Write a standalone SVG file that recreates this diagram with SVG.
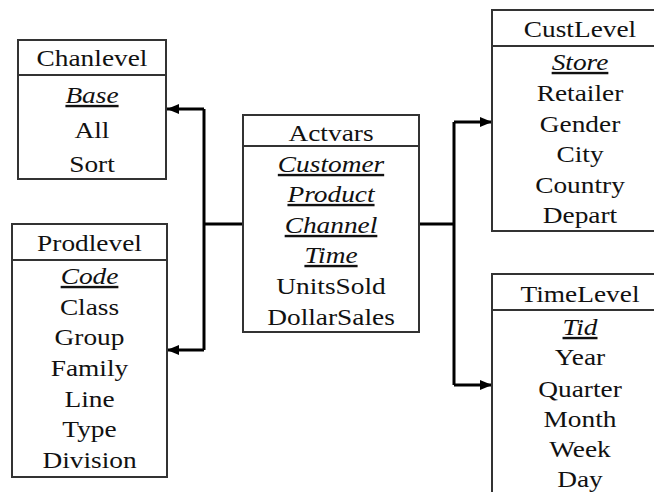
<svg xmlns="http://www.w3.org/2000/svg" width="654" height="492" viewBox="0 0 654 492">
<style>
  .box { fill: #ffffff; stroke: #333333; stroke-width: 2; }
  .sep { stroke: #333333; stroke-width: 2; }
  text { font-size: 24px; fill: #111111; text-anchor: middle; }
  .key { font-style: italic; text-decoration: underline; }
  .conn { fill: none; stroke: #000000; stroke-width: 3; }
</style>
<defs>
  <marker id="arr" markerUnits="userSpaceOnUse" markerWidth="14" markerHeight="12" refX="12" refY="6" orient="auto">
    <path d="M0,1 L12,6 L0,11 Z" fill="#000000"/>
  </marker>
</defs>
<rect width="654" height="492" fill="#ffffff"/>

<g id="connectors">
  <path class="conn" d="M243,224 H204"/>
  <path class="conn" d="M204,109 V350"/>
  <path class="conn" d="M204,109 H167" marker-end="url(#arr)"/>
  <path class="conn" d="M204,350 H167" marker-end="url(#arr)"/>
  <path class="conn" d="M419,224 H454"/>
  <path class="conn" d="M454,122 V385"/>
  <path class="conn" d="M454,122 H492" marker-end="url(#arr)"/>
  <path class="conn" d="M454,385 H492" marker-end="url(#arr)"/>
</g>

<g id="chanlevel">
  <rect class="box" x="18" y="40" width="148" height="139"/>
  <line class="sep" x1="18" y1="75" x2="166" y2="75"/>
  <g transform="translate(92 0) scale(1.14 1)">
    <text font-family="Liberation Serif" x="0" y="66">Chanlevel</text>
    <text font-family="Liberation Serif" class="key" x="0" y="103">Base</text>
    <text font-family="Liberation Serif" x="0" y="138">All</text>
    <text font-family="Liberation Serif" x="0" y="172">Sort</text>
  </g>
</g>

<g id="prodlevel">
  <rect class="box" x="12" y="224" width="155" height="253"/>
  <line class="sep" x1="12" y1="260" x2="167" y2="260"/>
  <g transform="translate(89.5 0) scale(1.14 1)">
    <text font-family="Liberation Serif" x="0" y="251">Prodlevel</text>
    <text font-family="Liberation Serif" class="key" x="0" y="284">Code</text>
    <text font-family="Liberation Serif" x="0" y="315">Class</text>
    <text font-family="Liberation Serif" x="0" y="345">Group</text>
    <text font-family="Liberation Serif" x="0" y="376">Family</text>
    <text font-family="Liberation Serif" x="0" y="407">Line</text>
    <text font-family="Liberation Serif" x="0" y="437">Type</text>
    <text font-family="Liberation Serif" x="0" y="468">Division</text>
  </g>
</g>

<g id="actvars">
  <rect class="box" x="243" y="115" width="176" height="217"/>
  <line class="sep" x1="243" y1="146" x2="419" y2="146"/>
  <g transform="translate(331 0) scale(1.14 1)">
    <text font-family="Liberation Serif" x="0" y="141">Actvars</text>
    <text font-family="Liberation Serif" class="key" x="0" y="172">Customer</text>
    <text font-family="Liberation Serif" class="key" x="0" y="202">Product</text>
    <text font-family="Liberation Serif" class="key" x="0" y="233">Channel</text>
    <text font-family="Liberation Serif" class="key" x="0" y="263">Time</text>
    <text font-family="Liberation Serif" x="0" y="294">UnitsSold</text>
    <text font-family="Liberation Serif" x="0" y="325">DollarSales</text>
  </g>
</g>

<g id="custlevel">
  <rect class="box" x="492" y="10" width="180" height="221"/>
  <line class="sep" x1="492" y1="46" x2="672" y2="46"/>
  <g transform="translate(580 0) scale(1.14 1)">
    <text font-family="Liberation Serif" x="0" y="37">CustLevel</text>
    <text font-family="Liberation Serif" class="key" x="0" y="70">Store</text>
    <text font-family="Liberation Serif" x="0" y="101">Retailer</text>
    <text font-family="Liberation Serif" x="0" y="132">Gender</text>
    <text font-family="Liberation Serif" x="0" y="162">City</text>
    <text font-family="Liberation Serif" x="0" y="193">Country</text>
    <text font-family="Liberation Serif" x="0" y="223">Depart</text>
  </g>
</g>

<g id="timelevel">
  <rect class="box" x="492" y="274" width="180" height="240"/>
  <line class="sep" x1="492" y1="310" x2="672" y2="310"/>
  <g transform="translate(580 0) scale(1.14 1)">
    <text font-family="Liberation Serif" x="0" y="302">TimeLevel</text>
    <text font-family="Liberation Serif" class="key" x="0" y="335">Tid</text>
    <text font-family="Liberation Serif" x="0" y="365">Year</text>
    <text font-family="Liberation Serif" x="0" y="397">Quarter</text>
    <text font-family="Liberation Serif" x="0" y="427">Month</text>
    <text font-family="Liberation Serif" x="0" y="457">Week</text>
    <text font-family="Liberation Serif" x="0" y="487">Day</text>
  </g>
</g>
</svg>
